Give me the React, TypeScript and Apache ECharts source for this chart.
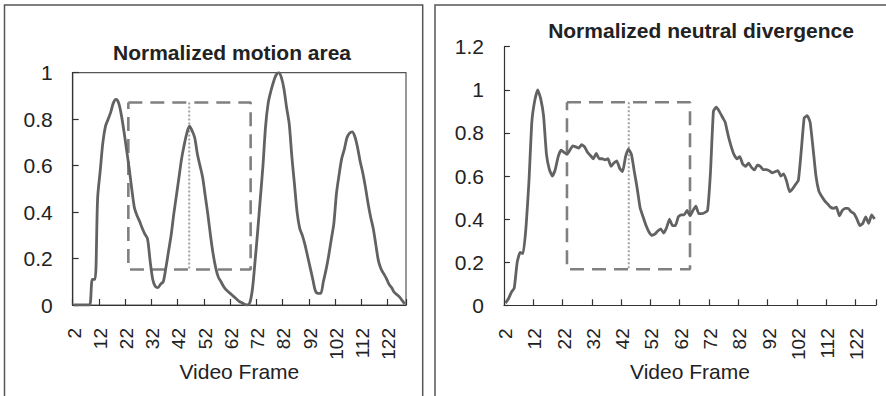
import React, { useEffect, useRef } from "react";
import * as echarts from "echarts";

// Video frames 2..128 (category axis)
const frames: string[] = Array.from({ length: 127 }, (_, i) => String(i + 2));

// Normalized motion area (frames 2..128)
const motionArea: number[] = [
  0, 0, 0, 0, 0, 0, 0, 0.11, 0.11,
  0.46, 0.58, 0.7, 0.77, 0.8, 0.83, 0.87, 0.885, 0.87, 0.82,
  0.75, 0.67, 0.59, 0.5, 0.42, 0.385, 0.36, 0.33, 0.305, 0.285,
  0.19, 0.11, 0.08, 0.075, 0.09, 0.1, 0.16, 0.23, 0.3, 0.39,
  0.47, 0.55, 0.63, 0.69, 0.74, 0.77, 0.75, 0.72, 0.65, 0.6,
  0.55, 0.47, 0.39, 0.3, 0.22, 0.16, 0.12, 0.1, 0.08, 0.065,
  0.055, 0.045, 0.035, 0.025, 0.015, 0.01, 0.003, 0, 0.01, 0.07,
  0.19, 0.32, 0.46, 0.6, 0.77, 0.87, 0.92, 0.96, 0.99, 1.0,
  0.98, 0.93, 0.85, 0.78, 0.64, 0.52, 0.4, 0.33, 0.3, 0.26,
  0.21, 0.16, 0.11, 0.06, 0.05, 0.05, 0.1, 0.15, 0.21, 0.28,
  0.35, 0.48, 0.56, 0.63, 0.67, 0.72, 0.74, 0.745, 0.725, 0.68,
  0.62, 0.57, 0.51, 0.44, 0.38, 0.33, 0.26, 0.19, 0.155, 0.135,
  0.115, 0.09, 0.075, 0.055, 0.045, 0.035, 0.02, 0.005,
];

// Normalized neutral divergence (frames 2..128)
const neutralDivergence: number[] = [
  0.01, 0.03, 0.06, 0.08, 0.2, 0.245, 0.24, 0.36, 0.57,
  0.85, 0.95, 1.0, 0.96, 0.88, 0.7, 0.63, 0.6, 0.63, 0.69,
  0.72, 0.71, 0.7, 0.72, 0.74, 0.735, 0.73, 0.745, 0.735, 0.71,
  0.695, 0.68, 0.705, 0.68, 0.68, 0.675, 0.68, 0.645, 0.66, 0.67,
  0.635, 0.62, 0.69, 0.725, 0.7, 0.62, 0.54, 0.45, 0.41, 0.37,
  0.34, 0.325, 0.33, 0.345, 0.355, 0.335, 0.36, 0.4, 0.37, 0.37,
  0.41, 0.42, 0.42, 0.44, 0.415, 0.44, 0.46, 0.425, 0.425, 0.43,
  0.44, 0.62, 0.9, 0.92, 0.9, 0.875, 0.85, 0.79, 0.74, 0.7,
  0.68, 0.69, 0.655, 0.645, 0.66, 0.64, 0.628, 0.65, 0.645, 0.63,
  0.63, 0.625, 0.615, 0.62, 0.625, 0.6, 0.61, 0.575, 0.527, 0.54,
  0.56, 0.58, 0.72, 0.87, 0.88, 0.85, 0.73, 0.6, 0.53, 0.505,
  0.485, 0.47, 0.455, 0.45, 0.455, 0.415, 0.44, 0.45, 0.45, 0.434,
  0.425, 0.4, 0.37, 0.38, 0.41, 0.38, 0.42, 0.4,
];

// Highlight windows (frame range, value range, marker frame)
const motionWindow = { x0: 22.7, x1: 69.3, y0: 0.153, y1: 0.872, mark: 45.9 };
const divergenceWindow = { x0: 23.0, x1: 65.0, y0: 0.167, y1: 0.942, mark: 44.1 };

const titles = ["Normalized motion area", "Normalized neutral divergence"];
const xName = "Video Frame";

const FONT = "'Liberation Sans', Arial, Helvetica, sans-serif";

function rectPath(w: typeof motionWindow): number[][] {
  return [
    [w.x0, w.y1],
    [w.x1, w.y1],
    [w.x1, w.y0],
    [w.x0, w.y0],
    [w.x0, w.y1],
  ];
}

export default function App() {
  const ref = useRef<HTMLDivElement>(null);

  useEffect(() => {
    if (!ref.current) return;
    const chart = echarts.init(ref.current, undefined, { renderer: "svg" });

    const catAxis = (gridIndex: number) => ({
      type: "category" as const,
      gridIndex,
      data: frames,
      boundaryGap: true,
      name: xName,
      nameLocation: "middle" as const,
      nameGap: 56,
      nameMoveOverlap: false,
      nameTextStyle: { fontFamily: FONT, fontSize: 21, color: "#222" },
      axisLine: { show: true, lineStyle: { color: "#333", width: 1.2 } },
      axisTick: { show: true, inside: true, length: 6, interval: 9, lineStyle: { color: "#333", width: 1.2 } },
      axisLabel: {
        interval: 9,
        rotate: 90,
        margin: 23,
        fontFamily: FONT,
        fontSize: 19,
        color: "#222",
      },
      splitLine: { show: false },
    });

    const hiddenValX = (gridIndex: number) => ({
      type: "value" as const,
      gridIndex,
      min: 1.5,
      max: 128.5,
      show: false,
      splitLine: { show: false },
    });

    const valAxis = (gridIndex: number, max: number) => ({
      type: "value" as const,
      gridIndex,
      min: 0,
      max,
      interval: 0.2,
      axisLine: { show: true, lineStyle: { color: "#333", width: 1.2 } },
      axisTick: { show: true, inside: true, length: 6, lineStyle: { color: "#333", width: 1.2 } },
      axisLabel: { margin: 20, fontFamily: FONT, fontSize: 21, color: "#222" },
      splitLine: { show: false },
    });

    const lineColor = "#626262";
    const dashColor = "#808080";

    chart.setOption({
      animation: false,
      backgroundColor: "#ffffff",
      title: [
        {
          text: titles[0],
          left: 227,
          top: 37,
          textAlign: "center",
          textStyle: { fontFamily: FONT, fontSize: 21, fontWeight: "bold", color: "#222" },
        },
        {
          text: titles[1],
          left: 696,
          top: 15,
          textAlign: "center",
          textStyle: { fontFamily: FONT, fontSize: 21, fontWeight: "bold", color: "#222" },
        },
      ],
      grid: [
        {
          left: 72.7,
          top: 72.7,
          width: 333.3,
          height: 232.3,
          show: true,
          borderColor: "#555",
          borderWidth: 1.2,
          backgroundColor: "transparent",
        },
        { left: 504, top: 46.7, width: 372, height: 258.6 },
      ],
      xAxis: [catAxis(0), catAxis(1), hiddenValX(0), hiddenValX(1)],
      yAxis: [valAxis(0, 1), valAxis(1, 1.2)],
      series: [
        {
          type: "line",
          xAxisIndex: 2,
          yAxisIndex: 0,
          data: rectPath(motionWindow),
          symbol: "none",
          lineStyle: { color: dashColor, width: 2.6, type: [14, 8] },
          z: 1,
        },
        {
          type: "line",
          xAxisIndex: 2,
          yAxisIndex: 0,
          data: [
            [motionWindow.mark, motionWindow.y1],
            [motionWindow.mark, motionWindow.y0],
          ],
          symbol: "none",
          lineStyle: { color: "#a0a0a0", width: 2, type: [2, 2] },
          z: 1,
        },
        {
          type: "line",
          name: titles[0],
          xAxisIndex: 0,
          yAxisIndex: 0,
          data: motionArea,
          smooth: 0.3,
          symbol: "none",
          lineStyle: { color: lineColor, width: 2.8 },
          z: 3,
        },
        {
          type: "line",
          xAxisIndex: 3,
          yAxisIndex: 1,
          data: rectPath(divergenceWindow),
          symbol: "none",
          lineStyle: { color: dashColor, width: 2.6, type: [14, 8] },
          z: 1,
        },
        {
          type: "line",
          xAxisIndex: 3,
          yAxisIndex: 1,
          data: [
            [divergenceWindow.mark, divergenceWindow.y1],
            [divergenceWindow.mark, divergenceWindow.y0],
          ],
          symbol: "none",
          lineStyle: { color: "#a0a0a0", width: 2, type: [2, 2] },
          z: 1,
        },
        {
          type: "line",
          name: titles[1],
          xAxisIndex: 1,
          yAxisIndex: 1,
          data: neutralDivergence,
          smooth: 0.15,
          symbol: "none",
          lineStyle: { color: lineColor, width: 2.8 },
          z: 3,
        },
      ],
      graphic: [
        {
          type: "rect",
          shape: { x: 4.5, y: 5, width: 418.2, height: 420 },
          style: { fill: "none", stroke: "#555", lineWidth: 1.5 },
          silent: true,
        },
        {
          type: "rect",
          shape: { x: 435, y: 5, width: 470, height: 420 },
          style: { fill: "none", stroke: "#555", lineWidth: 1.5 },
          silent: true,
        },
      ],
    });

    return () => chart.dispose();
  }, []);

  return (
    <div
      ref={ref}
      style={{ position: "fixed", left: 0, top: 0, width: 886, height: 396, background: "#fff" }}
    />
  );
}
